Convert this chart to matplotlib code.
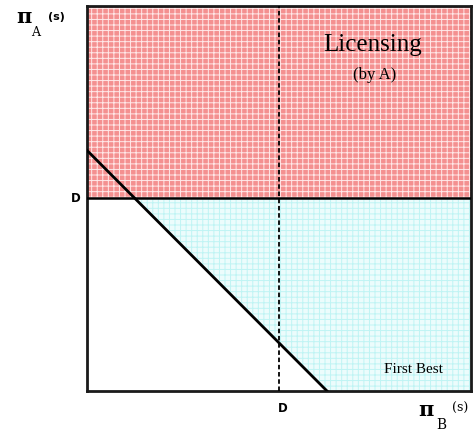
import matplotlib
matplotlib.use("Agg")
import matplotlib.pyplot as plt
import numpy as np

# data (normalised axis units)
d_level_a = 0.5        # D on the pi_A axis
d_level_b = 0.5        # D on the pi_B axis
frontier_x = [0.0, 0.625]
frontier_y = [0.625, 0.0]
region_labels = ["Licensing", "(by A)", "First Best"]
axis_labels = ["A", "B"]

plt.rcParams['hatch.linewidth'] = 0.7

fig = plt.figure(figsize=(4.76, 4.36), dpi=100)
ax = fig.add_axes([87/476, 45/436, 384/476, 385/436])
ax.set_xlim(0, 1)
ax.set_ylim(0, 1)
ax.set_xticks([])
ax.set_yticks([])
for s in ax.spines.values():
    s.set_linewidth(2.0)
    s.set_color('#1a1a1a')

# red licensing region (above D)
ax.fill_between([0, 1], [d_level_a, d_level_a], [1, 1], facecolor='#f49090',
                edgecolor='#ffe8e8', hatch='+++', linewidth=0, zorder=1)

# cyan first-best region (below D, right of frontier)
x_cross = frontier_x[0] + (frontier_y[0] - d_level_a) / (frontier_y[0] - frontier_y[1]) * (frontier_x[1] - frontier_x[0])
poly_x = [x_cross, frontier_x[1], 1, 1]
poly_y = [d_level_a, 0, 0, d_level_a]
ax.fill(poly_x, poly_y, facecolor='#ecfcfc', edgecolor='#bff4f4', hatch='+++',
        linewidth=0, zorder=1)

# lines
ax.plot(frontier_x, frontier_y, color='black', lw=2.0, zorder=3)
ax.axhline(d_level_a, color='black', lw=1.8, zorder=3)
ax.axvline(d_level_b, color='black', lw=1.3, ls=(0, (2.5, 1.5)), zorder=3)

# region labels
ax.text(0.745, 0.899, region_labels[0], ha='center', va='center',
        family='Liberation Serif', fontsize=18)
ax.text(0.75, 0.82, region_labels[1], ha='center', va='center',
        family='Liberation Serif', fontsize=12)
ax.text(0.85, 0.055, region_labels[2], ha='center', va='center',
        family='Liberation Serif', fontsize=11)

# D labels
fig.text(76/476, 1 - 198/436, 'D', ha='center', va='center', fontsize=8.5,
         fontweight='bold', family='DejaVu Sans')
fig.text(283/476, 1 - 408/436, 'D', ha='center', va='center', fontsize=8.5,
         fontweight='bold', family='DejaVu Sans')

# axis labels
fig.text(24/476, 1 - 17/436, 'π', ha='center', va='center', fontsize=15,
         fontweight='bold', family='DejaVu Serif')
fig.text(36/476, 1 - 32/436, axis_labels[0], ha='center', va='center', fontsize=9,
         family='DejaVu Serif')
fig.text(56/476, 1 - 17/436, '(s)', ha='center', va='center', fontsize=8,
         fontweight='bold', family='DejaVu Sans')

fig.text(426/476, 1 - 410/436, 'π', ha='center', va='center', fontsize=15,
         fontweight='bold', family='DejaVu Serif')
fig.text(441/476, 1 - 425/436, axis_labels[1], ha='center', va='center', fontsize=10,
         family='DejaVu Serif')
fig.text(460/476, 1 - 408/436, '(s)', ha='center', va='center', fontsize=9,
         family='DejaVu Serif')

fig.savefig('out.png', dpi=100)
